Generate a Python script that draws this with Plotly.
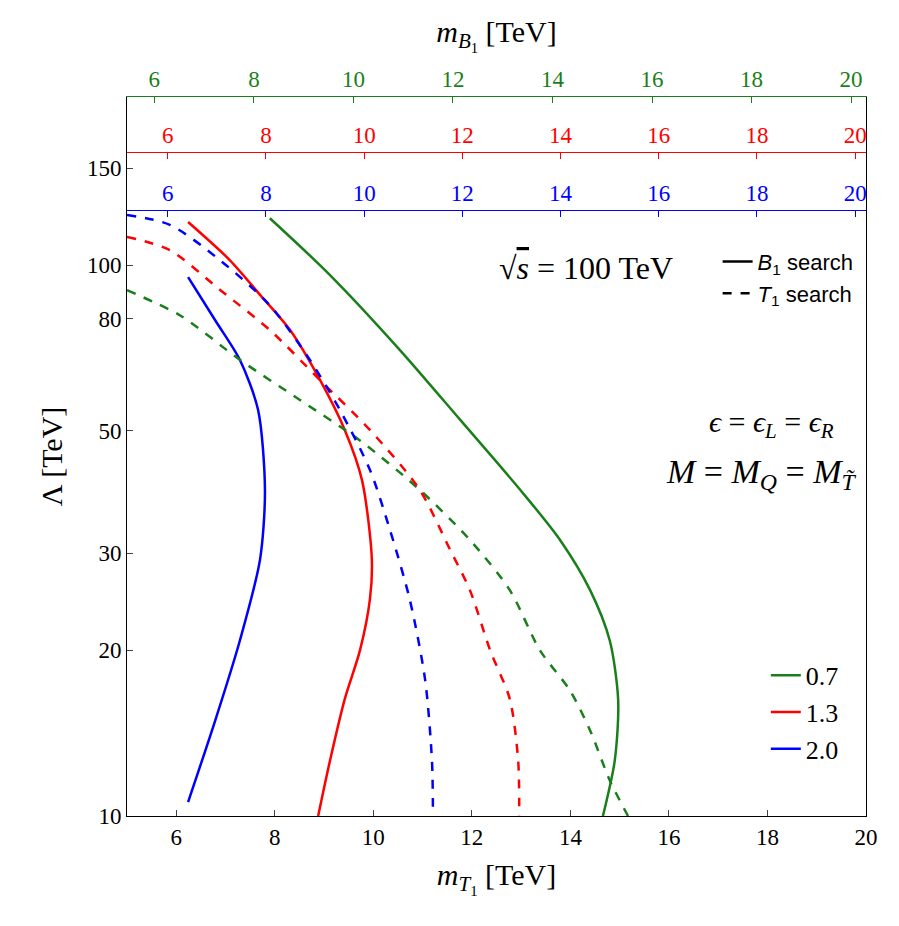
import plotly.graph_objects as go

g_sol_x=[7.90,9.12,10.54,11.76,12.98,13.79,14.40,14.80,14.97,14.90,14.66]
g_sol_y=[121.6,95.9,70.1,52.4,39.1,31.7,25.7,20.8,16.2,12.6,10]
g_das_x=[5,6.08,7.29,8.51,9.72,10.94,11.96,12.77,13.38,13.99,14.40,14.80,15.17]
g_das_y=[90,81,67.3,56.9,48.1,39.1,31.7,25.7,20,16.9,14.3,11.6,10]
r_sol_x=[6.24,7.09,7.70,8.31,8.92,9.42,9.77,9.97,9.93,9.73,9.42,9.12,8.88]
r_sol_y=[119.7,102,88.3,76.2,61.8,50.2,40.7,29.2,24.7,20,16.3,12.6,10]
r_das_x=[5,5.87,6.89,7.90,8.92,9.93,10.94,11.56,11.96,12.37,12.77,12.94,12.96]
r_das_y=[112.5,106.4,90.1,76.2,61.8,50.2,39.1,30.4,25.7,20,16.3,12.6,10]
b_sol_x=[6.24,6.79,7.29,7.66,7.80,7.70,7.29,6.79,6.24]
b_sol_y=[95.1,79.4,67.3,54.6,39.1,29.2,20.8,14.9,10.6]
b_das_x=[5,5.87,6.89,7.90,8.71,9.32,9.93,10.34,10.74,11.05,11.19,11.21]
b_das_y=[123.3,118.3,102,84.5,67.3,54.6,42.5,33,24.7,17.7,12.6,10]
top_ticks=[6,8,10,12,14,16,18,20]
y_ticks=[10,20,30,50,80,100,150]

G,R,B='#1a7f1a','red','blue'
F="Liberation Serif"
fig=go.Figure()
for x,y,c,name in [(g_sol_x,g_sol_y,G,'0.7'),(r_sol_x,r_sol_y,R,'1.3'),(b_sol_x,b_sol_y,B,'2.0')]:
    fig.add_trace(go.Scatter(x=x,y=y,mode='lines',line=dict(color=c,width=2.5,shape='spline',smoothing=0.8),name=name,legend='legend2'))
for x,y,c in [(g_das_x,g_das_y,G),(r_das_x,r_das_y,R),(b_das_x,b_das_y,B)]:
    fig.add_trace(go.Scatter(x=x,y=y,mode='lines',line=dict(color=c,width=2.5,dash='dash',shape='spline',smoothing=0.8),showlegend=False))
fig.add_trace(go.Scatter(x=[None],y=[None],mode='lines',line=dict(color='black',width=2.5),name='<i>B</i><sub>1</sub> search',legend='legend'))
fig.add_trace(go.Scatter(x=[None],y=[None],mode='lines',line=dict(color='black',width=2.5,dash='dash'),name='<i>T</i><sub>1</sub> search',legend='legend'))
for ax in ['x2','x3','x4']:
    fig.add_trace(go.Scatter(x=[10],y=[10],xaxis=ax,mode='markers',marker=dict(opacity=0),showlegend=False,hoverinfo='skip'))

ticksty=dict(ticks='inside',ticklen=6,tickwidth=1,tickfont=dict(size=23))
fig.update_layout(
    width=899,height=926,plot_bgcolor='white',paper_bgcolor='white',
    margin=dict(l=119,r=41,t=89,b=118),
    font=dict(family=F,size=22,color='black'),
    xaxis=dict(range=[5,20],tickvals=top_ticks,showline=True,linecolor='black',mirror=False,showgrid=False,zeroline=False,
               title=dict(text='<i>m</i><sub><i>T</i><sub>1</sub></sub> [TeV]',font=dict(size=30)),**ticksty),
    yaxis=dict(type='log',range=[1,2.305],tickvals=y_ticks,showline=True,linecolor='black',mirror=True,showgrid=False,zeroline=False,
               title=dict(text='Λ [TeV]',font=dict(size=30)),**ticksty),
    xaxis2=dict(overlaying='x',side='top',anchor='y',range=[5.45,20.3],tickvals=top_ticks,color=G,showline=True,linecolor=G,
                showgrid=False,zeroline=False,title=dict(text='<i>m</i><sub><i>B</i><sub>1</sub></sub> [TeV]',font=dict(size=30,color='black')),**ticksty),
    xaxis3=dict(overlaying='x',side='top',anchor='free',position=0.9235,range=[5.17,20.22],tickvals=top_ticks,color=R,showline=True,linecolor=R,
                showgrid=False,zeroline=False,**ticksty),
    xaxis4=dict(overlaying='x',side='top',anchor='free',position=0.843,range=[5.17,20.22],tickvals=top_ticks,color=B,showline=True,linecolor=B,
                showgrid=False,zeroline=False,**ticksty),
    legend=dict(x=0.99,y=0.80,xanchor='right',yanchor='top',bgcolor='rgba(0,0,0,0)',font=dict(family='Liberation Sans',size=22)),
    legend2=dict(x=0.97,y=0.06,xanchor='right',yanchor='bottom',bgcolor='rgba(0,0,0,0)',font=dict(size=26),tracegroupgap=8),
)
fig.add_annotation(xref='paper',yref='paper',x=0.5,y=0.79,text='√<span style="text-decoration:overline"><i>s</i></span> = 100 TeV',showarrow=False,font=dict(size=32),xanchor='left')
fig.add_annotation(xref='paper',yref='paper',x=0.96,y=0.545,text='<i>ϵ</i> = <i>ϵ</i><sub><i>L</i></sub> = <i>ϵ</i><sub><i>R</i></sub>',showarrow=False,font=dict(size=30),xanchor='right')
fig.add_annotation(xref='paper',yref='paper',x=0.99,y=0.475,text='<i>M</i> = <i>M</i><sub><i>Q</i></sub> = <i>M</i><sub><i>T̃</i></sub>',showarrow=False,font=dict(size=34),xanchor='right')
fig.write_html("out.html")
